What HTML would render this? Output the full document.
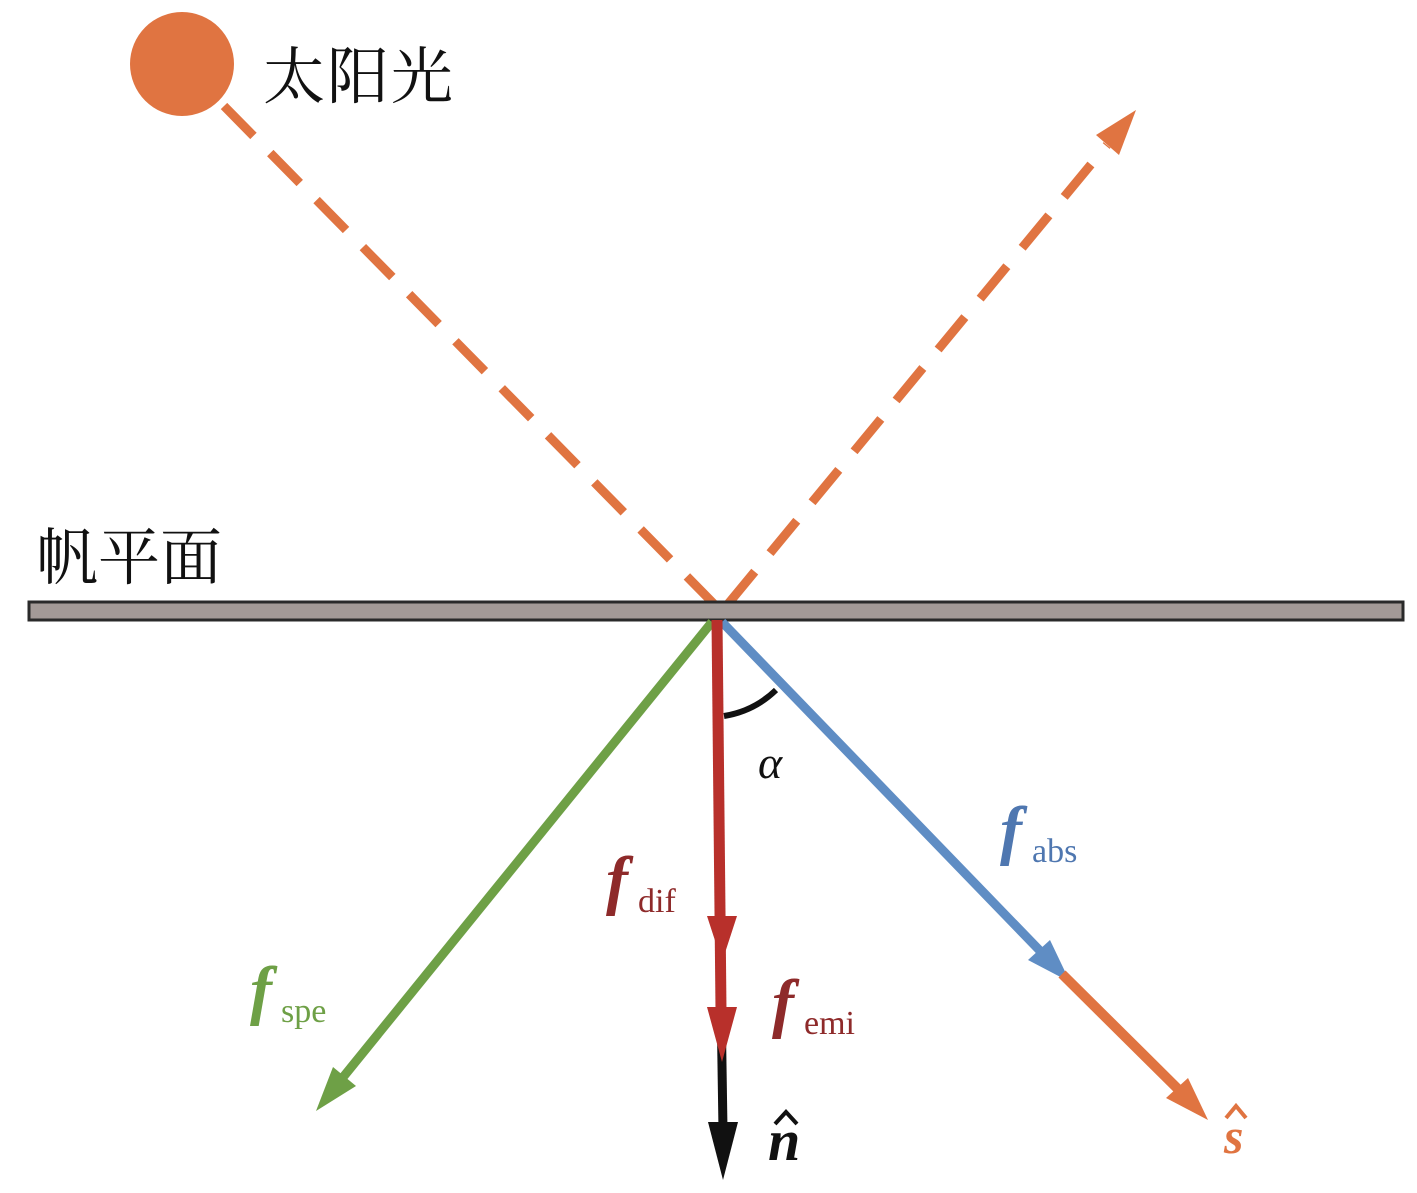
<!DOCTYPE html>
<html><head><meta charset="utf-8"><style>
html,body{margin:0;padding:0;background:#fff;}
svg{display:block;}
text{font-family:"Liberation Serif","Noto Serif CJK SC",serif;}
</style></head><body>
<svg width="1417" height="1193" viewBox="0 0 1417 1193" xmlns="http://www.w3.org/2000/svg">
<circle cx="182" cy="64" r="52" fill="#E07441"/>
<text x="263" y="98" font-size="62" font-family="Noto Sans CJK SC, sans-serif" fill="#111" textLength="190">太阳光</text>
<text x="36" y="579" font-size="62" font-family="Noto Sans CJK SC, sans-serif" fill="#111" textLength="186">帆平面</text>
<line x1="224" y1="106" x2="714" y2="604" stroke="#E07441" stroke-width="9" stroke-dasharray="42,24"/>
<line x1="728" y1="604" x2="1107" y2="145" stroke="#E07441" stroke-width="9" stroke-dasharray="42,24"/>
<polygon points="1136,110 1119,155 1096,135" fill="#E07441"/>
<rect x="29" y="602" width="1374" height="18" fill="#A39A97" stroke="#2a2a2a" stroke-width="3"/>
<line x1="712" y1="622" x2="340" y2="1081" stroke="#6EA046" stroke-width="9"/>
<polygon points="316,1111 356,1086 333,1067" fill="#6EA046"/>
<line x1="722" y1="622" x2="1045" y2="956" stroke="#5F8DC4" stroke-width="9"/>
<polygon points="1070,982 1028,960 1050,940" fill="#5F8DC4"/>
<line x1="1062" y1="974" x2="1183" y2="1094" stroke="#E07441" stroke-width="10"/>
<polygon points="1208,1120 1166,1098 1188,1078" fill="#E07441"/>
<line x1="721" y1="1000" x2="723" y2="1130" stroke="#111" stroke-width="9"/>
<polygon points="708,1122 738,1122 723,1180" fill="#111"/>
<line x1="717" y1="620" x2="721" y2="1010" stroke="#B8302B" stroke-width="11"/>
<polygon points="707,916 737,916 722,962" fill="#B8302B"/>
<polygon points="707,1007 737,1007 722,1062" fill="#B8302B"/>
<path d="M724,716 A97,97 0 0 0 776,690" fill="none" stroke="#111" stroke-width="6"/>
<text x="758" y="778" font-size="46" font-style="italic" fill="#111">α</text>
<g font-style="italic" font-weight="bold">
<text x="606" y="902" font-size="66" fill="#8E2A2A">f</text>
<text x="772" y="1025" font-size="66" fill="#8E2A2A">f</text>
<text x="1000" y="852" font-size="66" fill="#4F77B0">f</text>
<text x="250" y="1012" font-size="66" fill="#6EA046">f</text>
<text x="768" y="1160" font-size="58" fill="#111">n</text>
<text x="1224" y="1153" font-size="50" fill="#E07441">s</text>
</g>
<path d="M775,1124 L786,1112 L797,1124" fill="none" stroke="#111" stroke-width="4"/>
<path d="M1226,1118 L1236,1106 L1246,1118" fill="none" stroke="#E07441" stroke-width="4"/>
<text x="638" y="912" font-size="34" fill="#8E2A2A">dif</text>
<text x="804" y="1034" font-size="34" fill="#8E2A2A">emi</text>
<text x="1032" y="862" font-size="34" fill="#4F77B0">abs</text>
<text x="281" y="1022" font-size="34" fill="#6EA046">spe</text>
</svg>
</body></html>
